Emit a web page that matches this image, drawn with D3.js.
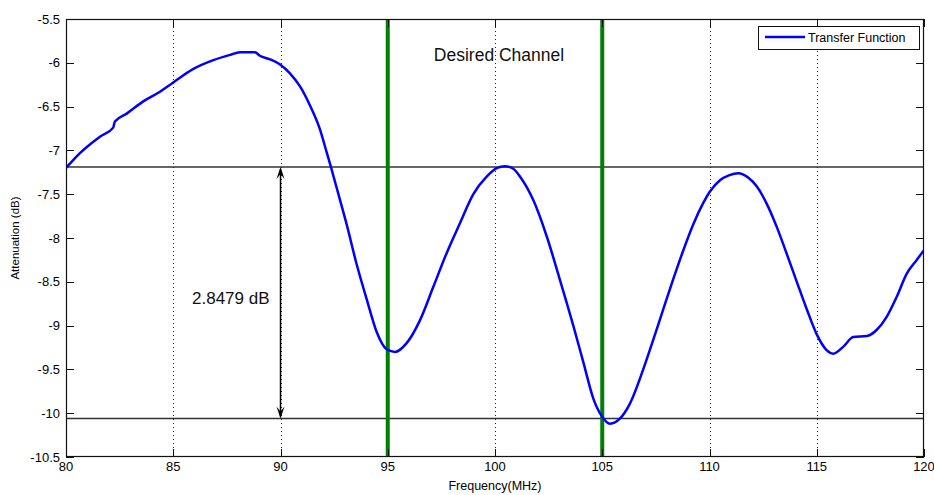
<!DOCTYPE html>
<html>
<head>
    <meta charset="utf-8" />
    <title>Transfer Function</title>
    <style>
        body { margin: 0; background: #fff; }
        svg { display: block; font-family: "Liberation Sans", Arial, sans-serif; }
    </style>
</head>
<body>
    <svg width=934 height=495></svg>

<script src="https://cdn.jsdelivr.net/npm/d3@7"></script>
<script>
    // curve (MHz, dB)
    var freq = [80.0, 80.65, 81.6, 82.2, 82.28, 82.83, 83.6, 84.38, 84.97, 85.94, 86.87, 87.65, 88.11, 88.81,
        89.04, 89.51, 89.98, 90.44, 90.91, 91.38, 91.84, 92.15, 92.34, 92.7, 93.09, 93.55, 94.02, 94.48, 94.95,
        95.34, 95.88, 96.5, 97.12, 97.75, 98.37, 98.99, 99.61, 100.1, 100.45, 100.85, 101.17, 101.79, 102.41, 103.03,
        103.65, 104.12, 104.58, 104.97, 105.36, 105.83, 106.29, 106.91, 107.38, 107.85, 108.31, 108.78, 109.25,
        109.71, 110.02, 110.49, 110.9, 111.35, 111.8, 112.2, 112.67, 113.13, 113.6, 114.07, 114.53, 115.0, 115.46,
        115.77, 116.24, 116.7, 117.33, 117.79, 118.26, 118.73, 119.19, 119.66, 120.0];
    var atten = [-7.2, -7.03, -6.84, -6.74, -6.67, -6.58, -6.44, -6.33, -6.23, -6.07, -5.97, -5.91, -5.88, -5.88,
        -5.92, -5.96, -6.02, -6.12, -6.27, -6.49, -6.76, -7.02, -7.18, -7.5, -7.85, -8.3, -8.7, -9.07, -9.27,
        -9.3, -9.2, -8.94, -8.56, -8.17, -7.83, -7.5, -7.3, -7.2, -7.18, -7.21, -7.3, -7.57, -7.98, -8.48,
        -9.0, -9.42, -9.83, -10.03, -10.12, -10.06, -9.89, -9.5, -9.16, -8.81, -8.47, -8.14, -7.84,
        -7.6, -7.47, -7.34, -7.285, -7.26, -7.31, -7.41, -7.61, -7.87, -8.18, -8.5, -8.81, -9.1, -9.28,
        -9.32, -9.24, -9.13, -9.12, -9.05, -8.9, -8.67, -8.41, -8.25, -8.14];

    var xTicks = [80, 85, 90, 95, 100, 105, 110, 115, 120];
    var yTicks = [-5.5, -6, -6.5, -7, -7.5, -8, -8.5, -9, -9.5, -10, -10.5];
    var channelEdges = [95, 105];
    var refLevels = [-7.19, -10.06];
    var arrowFreq = 90;
    var spanLabel = '2.8479 dB';
    var channelLabel = 'Desired Channel';
    var seriesName = 'Transfer Function';

    var data = freq.map(function (f, i) { return { f: f, a: atten[i] }; });

    var pL = 66, pR = 924, pT = 19, pB = 457;
    var tickLen = 8;

    var svg = d3.select('svg');

    var x = d3.scaleLinear().domain([80, 120]).range([pL, pR]);
    var y = d3.scaleLinear().domain([-10.5, -5.5]).range([pB, pT]);

    svg.append('defs').append('clipPath').attr('id', 'plot')
        .append('rect')
        .attr('x', pL).attr('y', pT)
        .attr('width', pR - pL).attr('height', pB - pT);

    // vertical dotted grid
    svg.append('g')
        .selectAll('line')
        .data(xTicks.filter(function (d) { return d > 80 && d < 120; }))
        .enter()
        .append('line')
        .attr('x1', function (d) { return Math.round(x(d)) + 0.5; })
        .attr('x2', function (d) { return Math.round(x(d)) + 0.5; })
        .attr('y1', pT)
        .attr('y2', pB)
        .attr('stroke', '#222')
        .attr('stroke-width', 1)
        .attr('stroke-dasharray', '1,3');

    // reference levels
    svg.append('g')
        .selectAll('line')
        .data(refLevels)
        .enter()
        .append('line')
        .attr('x1', pL)
        .attr('x2', pR)
        .attr('y1', function (d) { return y(d); })
        .attr('y2', function (d) { return y(d); })
        .attr('stroke', '#333')
        .attr('stroke-width', 1.4);

    // channel edges
    svg.append('g')
        .selectAll('line')
        .data(channelEdges)
        .enter()
        .append('line')
        .attr('x1', function (d) { return x(d); })
        .attr('x2', function (d) { return x(d); })
        .attr('y1', pT)
        .attr('y2', pB)
        .attr('stroke', '#008000')
        .attr('stroke-width', 4);

    // curve
    var line = d3.line()
        .x(function (d) { return x(d.f); })
        .y(function (d) { return y(d.a); })
        .curve(d3.curveMonotoneX);

    svg.append('path')
        .datum(data)
        .attr('clip-path', 'url(#plot)')
        .attr('d', line)
        .attr('fill', 'none')
        .attr('stroke', '#0000ff')
        .attr('stroke-width', 2.5)
        .attr('stroke-linejoin', 'round');

    // double arrow
    var ax = x(arrowFreq), ay1 = y(refLevels[0]), ay2 = y(refLevels[1]);
    svg.append('line')
        .attr('x1', ax).attr('x2', ax)
        .attr('y1', ay1 + 2).attr('y2', ay2 - 2)
        .attr('stroke', '#000')
        .attr('stroke-width', 1.5);
    svg.append('path')
        .attr('d', 'M' + (ax - 4) + ',' + (ay1 + 12) + 'L' + ax + ',' + ay1 + 'L' + (ax + 4) + ',' + (ay1 + 12)
            + 'L' + ax + ',' + (ay1 + 7) + 'Z')
        .attr('fill', '#000');
    svg.append('path')
        .attr('d', 'M' + (ax - 4) + ',' + (ay2 - 12) + 'L' + ax + ',' + ay2 + 'L' + (ax + 4) + ',' + (ay2 - 12)
            + 'L' + ax + ',' + (ay2 - 7) + 'Z')
        .attr('fill', '#000');

    svg.append('text')
        .attr('x', 192).attr('y', 304)
        .attr('font-size', 17)
        .attr('fill', '#111')
        .text(spanLabel);

    svg.append('text')
        .attr('x', 499)
        .attr('y', 61)
        .attr('text-anchor', 'middle')
        .attr('font-size', 17.5)
        .attr('fill', '#111')
        .text(channelLabel);

    // axes box and ticks
    svg.append('rect')
        .attr('x', pL + 0.5).attr('y', pT + 0.5)
        .attr('width', pR - pL - 1).attr('height', pB - pT - 1)
        .attr('fill', 'none')
        .attr('stroke', '#111')
        .attr('stroke-width', 1.2);

    var ticks = svg.append('g').attr('stroke', '#111').attr('stroke-width', 1);
    xTicks.forEach(function (d) {
        var px = Math.round(x(d)) + 0.5;
        ticks.append('line').attr('x1', px).attr('x2', px).attr('y1', pB).attr('y2', pB - tickLen);
        ticks.append('line').attr('x1', px).attr('x2', px).attr('y1', pT).attr('y2', pT + tickLen);
    });
    yTicks.forEach(function (d) {
        var py = Math.round(y(d)) + 0.5;
        ticks.append('line').attr('x1', pL).attr('x2', pL + tickLen).attr('y1', py).attr('y2', py);
        ticks.append('line').attr('x1', pR).attr('x2', pR - tickLen).attr('y1', py).attr('y2', py);
    });

    svg.append('g')
        .selectAll('text')
        .data(xTicks)
        .enter()
        .append('text')
        .attr('x', function (d) { return x(d); })
        .attr('y', 471)
        .attr('text-anchor', 'middle')
        .attr('font-size', 13)
        .text(function (d) { return d; });

    svg.append('g')
        .selectAll('text')
        .data(yTicks)
        .enter()
        .append('text')
        .attr('x', 60)
        .attr('y', function (d) { return y(d) + 4.5; })
        .attr('text-anchor', 'end')
        .attr('font-size', 13)
        .text(function (d) { return d; });

    svg.append('text')
        .attr('x', (pL + pR) / 2)
        .attr('y', 490)
        .attr('text-anchor', 'middle')
        .attr('font-size', 12.5)
        .text('Frequency(MHz)');

    svg.append('text')
        .attr('transform', 'translate(19,' + ((pT + pB) / 2) + ') rotate(-90)')
        .attr('text-anchor', 'middle')
        .attr('font-size', 11.5)
        .text('Attenuation (dB)');

    // legend
    var legend = svg.append('g');
    legend.append('rect')
        .attr('x', 758.5).attr('y', 26.5)
        .attr('width', 161).attr('height', 23)
        .attr('fill', '#fff')
        .attr('stroke', '#111')
        .attr('stroke-width', 1);
    legend.append('line')
        .attr('x1', 765).attr('x2', 805)
        .attr('y1', 37).attr('y2', 37)
        .attr('stroke', '#0000ff')
        .attr('stroke-width', 2.5);
    legend.append('text')
        .attr('x', 808).attr('y', 42)
        .attr('font-size', 12.5)
        .text(seriesName);
</script>
</body>
</html>
